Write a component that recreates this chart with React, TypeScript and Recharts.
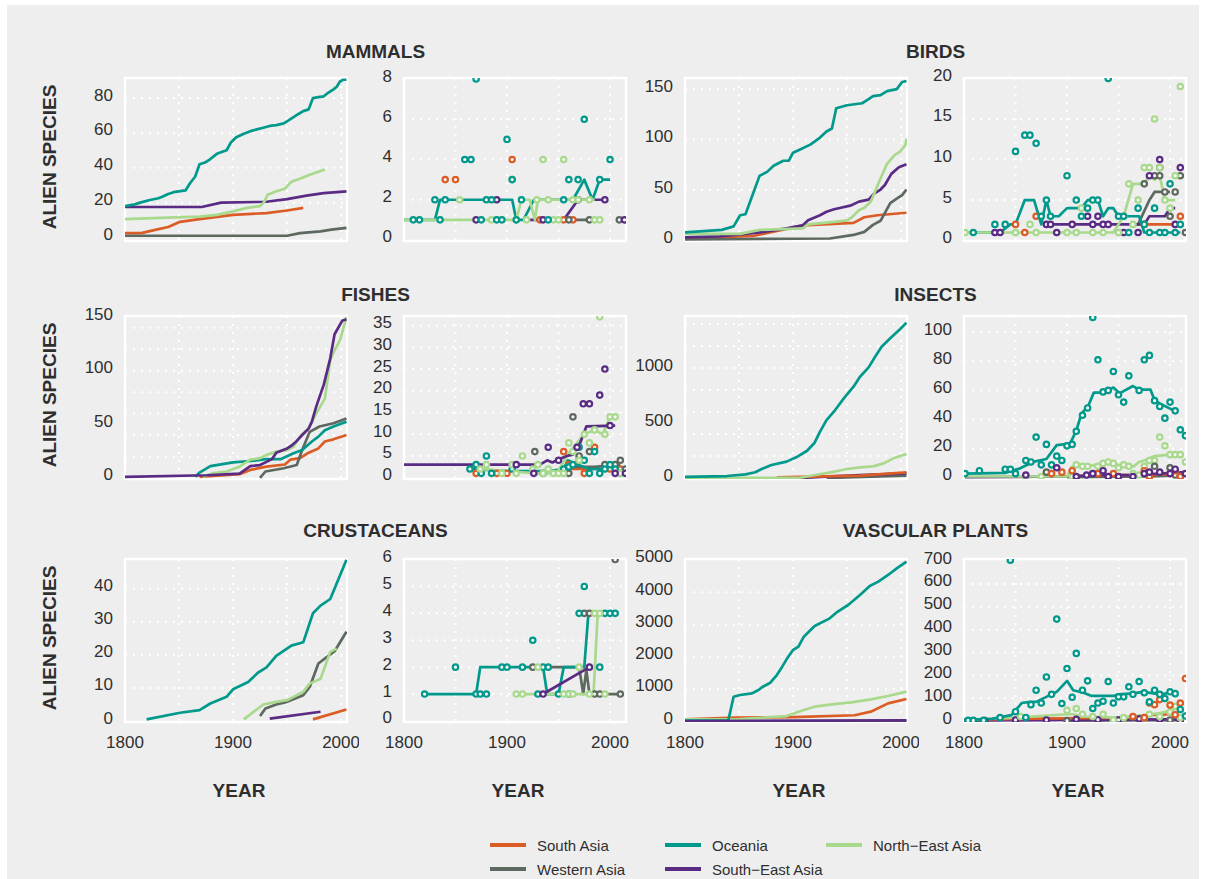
import React from 'react';
import { ComposedChart, Line, Scatter, XAxis, YAxis, CartesianGrid, ReferenceArea } from 'recharts';

type Pt = [number, number];
type RegionKey = 'sa' | 'oc' | 'ne' | 'wa' | 'se';

const REGIONS: { key: RegionKey; name: string; color: string }[] = [
  { key: 'sa', name: 'South Asia', color: '#dc5c26' },
  { key: 'oc', name: 'Oceania', color: '#00998b' },
  { key: 'ne', name: 'North\u2212East Asia', color: '#a9d98c' },
  { key: 'wa', name: 'Western Asia', color: '#5d685e' },
  { key: 'se', name: 'South\u2212East Asia', color: '#5a2b85' },
];

const TITLES = ['MAMMALS', 'BIRDS', 'FISHES', 'INSECTS', 'CRUSTACEANS', 'VASCULAR PLANTS'];
const X_TICKS = [1800, 1900, 2000];
const X_GRID = [1850, 1900, 1950, 2000];

// ---------- MAMMALS (cumulative) ----------
const mamOc: Pt[] = [[1800,18],[1809,19],[1814,20],[1823,21.5],[1831,22.5],[1835,23.5],[1840,25],[1845,26],[1856,27],[1860,31],[1865,35],[1869,42],[1874,43],[1879,45],[1885,48],[1894,50],[1898,54.5],[1903,57.5],[1910,59.5],[1916,61],[1922,62],[1928,63],[1934,64],[1940,64.5],[1947,65.5],[1951,67],[1956,69],[1961,71],[1965,72.5],[1970,73.5],[1974,80],[1979,80.5],[1984,81],[1988,83],[1993,85],[1996,86.5],[1999,89.5],[2002,90.5],[2005,90.5]];
const mamNe: Pt[] = [[1800,10.5],[1846,11.5],[1869,12],[1885,13],[1900,15],[1913,17],[1925,18],[1929,20.5],[1932,24.5],[1940,26.5],[1948,28],[1954,32],[1963,34],[1971,36],[1985,39]];
const mamSe: Pt[] = [[1800,17.5],[1871,17.5],[1889,20],[1931,20.5],[1950,22],[1968,24],[1984,25.5],[2005,26.5]];
const mamSa: Pt[] = [[1800,2.5],[1815,2.5],[1829,4.5],[1840,6],[1851,9],[1869,10.5],[1900,13],[1931,14],[1950,15.5],[1965,17]];
const mamWa: Pt[] = [[1800,1],[1950,1],[1962,2.5],[1981,3.5],[1991,4.5],[2005,5.5]];

// ---------- MAMMALS (new per year) ----------
const mamROc: Pt[] = [[1800,1],[1830,1],[1835,2],[1905,2],[1909,1],[1916,1],[1926,2],[1964,2],[1975,3],[1983,2],[1990,3],[2000,3]];
const mamRNe: Pt[] = [[1800,1],[1909,1],[1914,2],[1922,2],[1927,1],[1930,2],[1985,2]];
const mamRSe: Pt[] = [[1919,1],[1955,1],[1969,2],[1995,2]];
const mamRWa: Pt[] = [[1940,1],[1990,1]];
const mamRSa: Pt[] = [[1935,1],[1965,1]];
const mamROcPts: Pt[] = [[1809,1],[1815,1],[1830,2],[1835,1],[1840,2],[1859,4],[1865,4],[1870,8],[1875,1],[1880,2],[1885,2],[1890,1],[1895,1],[1900,5],[1905,3],[1909,1],[1914,2],[1940,1],[1955,2],[1960,3],[1969,3],[1975,6],[1990,3],[2000,4]];
const mamRNePts: Pt[] = [[1854,2],[1885,1],[1905,3],[1909,1],[1919,1],[1929,2],[1935,4],[1940,2],[1945,1],[1950,1],[1955,4],[1964,2],[1969,2],[1980,2],[1985,1],[1990,1]];
const mamRSePts: Pt[] = [[1870,1],[1890,2],[1935,1],[1969,2],[1995,2],[2014,1]];
const mamRSaPts: Pt[] = [[1840,3],[1850,3],[1905,4],[1932,1],[1955,1],[1964,1]];
const mamRWaPts: Pt[] = [[1960,1],[1980,1],[2009,1]];

// ---------- BIRDS (cumulative) ----------
const birOc: Pt[] = [[1800,8],[1834,10.5],[1842,13],[1845,14],[1851,25],[1856,26],[1869,64],[1876,68],[1882,74],[1891,79],[1896,79],[1900,87],[1906,90],[1916,95],[1925,102],[1931,108],[1936,111],[1940,131],[1950,134],[1964,136],[1970,140],[1974,143],[1981,144],[1987,148],[1996,150],[2001,157],[2005,158]];
const birNe: Pt[] = [[1800,6.5],[1851,6.5],[1869,10.5],[1909,12],[1914,16],[1938,18.5],[1950,20],[1955,23.5],[1961,30],[1966,32.5],[1972,38.5],[1981,61.5],[1987,76],[1994,84.5],[1999,88],[2004,94.5],[2005,101]];
const birSe: Pt[] = [[1800,3],[1832,4],[1869,8],[1894,12],[1909,15],[1914,20],[1925,25],[1931,28.5],[1938,31],[1953,34.5],[1961,38.5],[1970,40.5],[1975,46.5],[1981,50.5],[1985,55],[1991,66],[1998,72.5],[2005,75.5]];
const birSa: Pt[] = [[1800,2],[1863,4.5],[1909,15],[1956,17.5],[1966,23],[1978,25],[2005,27.5]];
const birWa: Pt[] = [[1800,1],[1934,2],[1956,5.5],[1966,8.5],[1974,15.5],[1981,19.5],[1990,37],[1996,41.5],[2001,45],[2005,50.5]];

// ---------- BIRDS (new per year) ----------
const birROc: Pt[] = [[1800,1],[1835,1],[1845,2],[1850,2],[1859,5],[1868,5],[1875,2],[1880,5],[1884,3],[1892,3],[1900,4],[1914,4],[1920,5],[1930,5],[1935,3],[1940,4],[1945,4],[1950,3],[1970,3],[1975,1],[2010,1]];
const birRNe: Pt[] = [[1800,1],[1945,1],[1955,3],[1964,7],[1975,7],[1980,8],[1985,7.5],[1990,8],[1995,5],[2005,5]];
const birRSe: Pt[] = [[1884,2],[1975,2],[1980,3],[1995,3],[2000,4],[2005,4]];
const birRWa: Pt[] = [[1969,2],[1980,5],[1985,6],[2000,6]];
const birRSa: Pt[] = [[1960,2],[2010,2]];
const birROcPts: Pt[] = [[1809,1],[1830,2],[1840,2],[1850,11],[1859,13],[1864,13],[1870,12],[1875,3],[1880,5],[1884,3],[1900,8],[1909,5],[1914,3],[1920,4],[1925,5],[1930,5],[1940,20],[1950,3],[1955,3],[1960,1],[1969,4],[1975,2],[1980,1],[1985,4],[1990,1],[1995,1],[2000,7],[2005,1],[2010,2]];
const birRNePts: Pt[] = [[1801,1],[1850,1],[1864,2],[1870,1],[1900,1],[1909,1],[1914,4],[1925,1],[1935,1],[1950,1],[1955,3],[1960,7],[1964,2],[1969,5],[1975,9],[1980,9],[1985,15],[1990,9],[1995,5],[2000,4],[2005,8],[2010,19]];
const birRSePts: Pt[] = [[1830,1],[1835,1],[1880,2],[1884,2],[1890,1],[1905,2],[1920,3],[1925,2],[1930,3],[1935,2],[1940,2],[1955,1],[1969,1],[1980,8],[1990,10],[1990,9],[2005,2],[2010,9]];
const birRWaPts: Pt[] = [[1975,7],[1985,8],[1990,8],[1995,6],[2000,3],[2005,6],[2010,8],[2015,1]];
const birRSaPts: Pt[] = [[1850,2],[1859,1],[1870,3],[1975,2],[2010,3]];

// ---------- FISHES (cumulative) ----------
const fisSe: Pt[] = [[1800,1],[1876,2.5],[1906,4],[1916,11],[1925,12],[1931,15],[1936,17.5],[1940,23.5],[1950,27.5],[1954,30],[1959,34.5],[1964,40],[1970,46],[1973,52.5],[1977,66.5],[1984,87],[1990,111.5],[1994,134],[2001,146.5],[2005,148]];
const fisNe: Pt[] = [[1872,1],[1882,4.5],[1894,6],[1906,10.5],[1916,17],[1925,18.5],[1931,21.5],[1940,24.5],[1950,26],[1956,29],[1962,38.5],[1970,46.5],[1977,60],[1985,74],[1990,110],[1994,119],[1999,128.5],[2005,150]];
const fisOc: Pt[] = [[1865,1],[1869,5],[1879,11],[1900,14.5],[1919,16],[1931,17.5],[1944,17.5],[1956,23],[1964,26],[1973,34],[1979,38.5],[1985,44.5],[1993,48],[2005,52.5]];
const fisSa: Pt[] = [[1869,1],[1906,3.5],[1916,7.5],[1931,10.5],[1948,12.5],[1953,17],[1962,18.5],[1970,23.5],[1979,27.5],[1985,34],[1993,36],[2005,40]];
const fisWa: Pt[] = [[1925,0],[1930,6],[1947,9],[1959,12],[1964,26],[1971,43],[1980,48],[1993,51],[2005,55.5]];

// ---------- FISHES (new per year) ----------
const fisRSe: Pt[] = [[1800,3],[1932,3],[1939,4],[1944,3.5],[1950,4.2],[1958,5],[1964,5.3],[1971,8],[1977,11.8],[2005,12]];
const fisRNe: Pt[] = [[1874,2],[1900,1.5],[1930,1],[1948,1],[1961,6],[1975,10],[1985,11],[1993,10],[2000,14],[2005,14]];
const fisROc: Pt[] = [[1864,2],[1900,1.5],[1940,1.5],[1955,2],[1959,4],[1969,3],[1980,2],[1995,2],[2010,2]];
const fisRSa: Pt[] = [[1950,2],[1980,2],[2010,2]];
const fisRWa: Pt[] = [[1955,2.5],[1985,2.5],[2010,3]];
const fisRSePts: Pt[] = [[1909,3],[1926,1],[1940,7],[1950,4],[1968,7],[1974,17],[1980,17],[1990,19],[1995,25],[2000,12],[2005,1],[2015,1]];
const fisRNePts: Pt[] = [[1874,2],[1880,3],[1895,1],[1905,3],[1909,1],[1915,5],[1925,2],[1930,3],[1935,1],[1940,2],[1945,1],[1950,1],[1955,1],[1960,8],[1964,6],[1970,4],[1975,10],[1980,8],[1985,11],[1990,37],[1995,10],[2000,14],[2005,14],[2010,1]];
const fisROcPts: Pt[] = [[1864,2],[1870,3],[1875,1],[1880,5],[1885,1],[1905,2],[1935,1],[1955,2],[1960,2.5],[1964,3],[1970,7],[1975,4],[1980,1],[1985,6],[1990,1],[1995,2],[2000,3],[2005,2],[2010,1]];
const fisRSaPts: Pt[] = [[1870,1],[1890,1],[1900,1],[1955,6],[1960,3],[1970,4],[1975,1],[1985,7],[2000,2],[2010,2]];
const fisRWaPts: Pt[] = [[1927,6],[1960,1],[1964,14],[1970,5],[1980,6],[1995,3],[2005,3],[2010,4],[2015,2]];

// ---------- INSECTS (cumulative) ----------
const insOc: Pt[] = [[1800,10],[1839,18],[1856,33],[1865,52],[1871,82],[1880,118],[1894,149],[1903,188],[1913,248],[1920,321],[1925,421],[1931,527],[1939,618],[1947,724],[1956,830],[1962,921],[1970,1006],[1976,1103],[1982,1194],[1990,1270],[1999,1352],[2005,1412]];
const insNe: Pt[] = [[1800,2],[1906,2],[1922,30],[1940,61],[1950,82],[1962,97],[1974,106],[1984,133],[1993,179],[2005,218]];
const insSe: Pt[] = [[1906,0],[1931,12],[1962,27],[2005,42]];
const insSa: Pt[] = [[1885,6],[1962,21],[2005,52]];
const insWa: Pt[] = [[1931,0],[2005,21]];

// ---------- INSECTS (new per year) ----------
const insROc: Pt[] = [[1801,3],[1840,3.5],[1854,6.5],[1867,11],[1880,13],[1890,22.5],[1903,23.5],[1909,32.5],[1914,44],[1921,50],[1926,58.5],[1935,58.5],[1945,62],[1951,58],[1964,63],[1970,60.5],[1981,60.5],[1985,53.5],[1990,51],[2000,47.5],[2006,45.5]];
const insRNe: Pt[] = [[1801,1],[1900,1],[1905,8],[1920,8],[1935,10],[1950,9],[1965,8],[1970,11],[1975,12],[1985,15],[2000,16],[2010,16]];
const insRSe: Pt[] = [[1801,0.5],[1900,1],[1930,2],[1960,2],[1990,3],[2015,4]];
const insRSa: Pt[] = [[1880,1],[1950,2],[1990,2.5],[2015,3]];
const insRWa: Pt[] = [[1900,0.5],[1980,1],[2015,2]];
const insROcPts: Pt[] = [[1801,3],[1815,5],[1840,6],[1845,6],[1850,3],[1860,12],[1865,11],[1870,28],[1875,9],[1880,23],[1885,9],[1890,15],[1895,12],[1900,22],[1905,23],[1909,32],[1915,43],[1920,48],[1925,110],[1930,81],[1935,59],[1940,60],[1945,73],[1950,57],[1955,52],[1960,70],[1970,60],[1975,81],[1980,84],[1985,53],[1990,49],[1995,41],[2000,52],[2005,46],[2010,33],[2015,29]];
const insRNePts: Pt[] = [[1860,0.5],[1875,1],[1905,1],[1909,9],[1915,8],[1920,8],[1930,8],[1935,10],[1940,11],[1945,10],[1950,7],[1955,9],[1960,8],[1964,3],[1970,2],[1975,8],[1980,12],[1985,12],[1990,28],[1995,22],[2000,16],[2005,16],[2010,16],[2015,11]];
const insRSePts: Pt[] = [[1860,2],[1890,7],[1909,1],[1919,2],[1925,3],[1935,5],[1940,1],[1950,1],[1964,1],[1975,3],[1980,4],[1990,4],[2000,3],[2005,6],[2015,3]];
const insRSaPts: Pt[] = [[1885,3],[1895,4],[1905,5],[1930,3],[1945,3],[1975,5],[1980,1],[2000,3],[2005,5],[2010,1]];
const insRWaPts: Pt[] = [[1880,4],[1925,3],[1980,1],[1985,8],[2000,7],[2005,2],[2010,1]];

// ---------- CRUSTACEANS (cumulative) ----------
const cruOc: Pt[] = [[1820,0.5],[1851,2.5],[1869,3.3],[1879,5.3],[1894,7.3],[1900,9.6],[1914,11.8],[1923,14.6],[1931,16.2],[1940,19.7],[1954,22.8],[1965,23.8],[1974,32.6],[1981,34.9],[1990,36.9],[2005,48.8]];
const cruNe: Pt[] = [[1910,0.5],[1928,5],[1940,5.8],[1950,6.3],[1965,8.8],[1971,11.3],[1981,12.8],[1990,20.9],[1996,21.9]];
const cruWa: Pt[] = [[1925,1.5],[1930,3.8],[1940,5],[1950,5.8],[1965,7.8],[1971,10.3],[1979,17.4],[1987,19.4],[1994,21.1],[2005,27]];
const cruSe: Pt[] = [[1934,0.7],[1981,2.8]];
const cruSa: Pt[] = [[1974,0.5],[2005,3.5]];

// ---------- CRUSTACEANS (new per year) ----------
const cruROc: Pt[] = [[1820,1],[1870,1],[1874,2],[1935,2],[1939,1],[1950,1],[1955,2],[1975,2],[1979,4],[2005,4]];
const cruRWa: Pt[] = [[1925,2],[1964,2],[1970,2],[1974,1],[1977,1.9],[1980,1],[1985,1],[2010,1]];
const cruRNe: Pt[] = [[1909,1],[1984,1],[1988,4],[1990,4]];
const cruRSe: Pt[] = [[1935,1],[1980,2]];
const cruROcPts: Pt[] = [[1820,1],[1850,2],[1870,1],[1874,1],[1880,1],[1895,2],[1900,2],[1915,2],[1925,3],[1930,1],[1935,2],[1940,2],[1950,1],[1960,1],[1970,4],[1975,5],[1990,2],[1995,4],[2000,4],[2005,4]];
const cruRWaPts: Pt[] = [[1925,2],[1975,4],[1980,4],[1985,1],[1990,1],[2005,6],[2010,1]];
const cruRNePts: Pt[] = [[1909,1],[1915,1],[1930,2],[1955,1],[1960,1],[1964,1],[1970,2],[1980,1],[1985,4],[1990,4],[1995,1]];
const cruRSePts: Pt[] = [[1935,1],[1980,2]];

// ---------- VASCULAR PLANTS (cumulative) ----------
const vasOc: Pt[] = [[1800,10],[1840,10],[1845,755],[1851,807],[1862,859],[1868,963],[1872,1066],[1879,1190],[1885,1428],[1890,1687],[1894,1915],[1900,2205],[1905,2308],[1910,2619],[1920,2950],[1934,3188],[1940,3364],[1951,3602],[1962,3913],[1971,4193],[1979,4327],[1988,4534],[1996,4741],[2005,4948]];
const vasNe: Pt[] = [[1800,50],[1850,60],[1894,155],[1910,342],[1920,445],[1936,518],[1954,580],[1972,673],[1988,776],[2005,911]];
const vasSa: Pt[] = [[1800,50],[1847,110],[1900,120],[1957,180],[1972,290],[1988,549],[2005,684]];
const vasSe: Pt[] = [[1800,0],[2005,20]];
const vasWa: Pt[] = [[1800,0],[2005,5]];

// ---------- VASCULAR PLANTS (new per year) ----------
const vasROc: Pt[] = [[1800,5],[1827,10],[1846,26],[1856,79],[1864,84],[1870,84],[1880,106],[1890,128],[1900,176],[1906,135],[1916,124],[1924,110],[1945,110],[1950,117],[1964,121],[1974,128],[1984,121],[1990,117],[2000,124],[2005,117]];
const vasRNe: Pt[] = [[1800,5],[1850,15],[1900,30],[1906,30],[1915,20],[1950,15],[1975,25],[1990,35],[2000,45],[2010,60]];
const vasRSa: Pt[] = [[1800,5],[1850,10],[1960,15],[1975,25],[2000,30],[2005,35]];
const vasRSe: Pt[] = [[1800,2],[2000,8],[2010,5]];
const vasRWa: Pt[] = [[1900,2],[2010,4]];
const vasROcPts: Pt[] = [[1804,3],[1809,3],[1819,3],[1835,15],[1845,704],[1850,41],[1860,16],[1865,72],[1870,135],[1875,79],[1880,193],[1885,117],[1890,446],[1895,77],[1900,230],[1905,104],[1909,296],[1915,135],[1920,176],[1925,55],[1930,79],[1935,87],[1940,173],[1945,79],[1950,106],[1955,106],[1960,150],[1964,117],[1970,173],[1975,124],[1980,84],[1985,135],[1990,117],[1995,99],[2000,128],[2005,120],[2010,51],[2015,22]];
const vasRNePts: Pt[] = [[1855,20],[1900,47],[1909,55],[1915,30],[1925,20],[1935,30],[1945,5],[1955,15],[1964,20],[1975,15],[1980,30],[1990,20],[2000,40],[2005,65],[2010,15]];
const vasRSaPts: Pt[] = [[1964,20],[1975,15],[1980,79],[1985,72],[1990,94],[2000,70],[2005,28],[2010,79],[2015,186]];
const vasRSePts: Pt[] = [[1820,2],[1850,5],[1880,5],[1909,8],[1930,6],[1950,5],[1970,10],[1990,8],[2010,3]];
const vasRWaPts: Pt[] = [[1900,2],[1950,3],[2000,5]];

// ---------- panel definitions ----------
type Series = Partial<Record<RegionKey, Pt[]>>;
interface PanelDef {
  row: number; col: number; xMax: number;
  yDomain: [number, number]; yTicks: number[]; gridY: number[];
  lines: Series; pts?: Series;
}

const PANELS: PanelDef[] = [
  { row: 0, col: 0, xMax: 2005.5, yDomain: [-2, 91.5], yTicks: [0, 20, 40, 60, 80], gridY: [20, 40, 60, 80],
    lines: { sa: mamSa, wa: mamWa, se: mamSe, ne: mamNe, oc: mamOc } },
  { row: 0, col: 1, xMax: 2015.5, yDomain: [-0.05, 8.05], yTicks: [0, 2, 4, 6, 8], gridY: [2, 4, 6],
    lines: { sa: mamRSa, wa: mamRWa, se: mamRSe, oc: mamROc, ne: mamRNe },
    pts: { sa: mamRSaPts, wa: mamRWaPts, se: mamRSePts, ne: mamRNePts, oc: mamROcPts } },
  { row: 0, col: 2, xMax: 2005.5, yDomain: [-0.5, 161], yTicks: [0, 50, 100, 150], gridY: [50, 100, 150],
    lines: { sa: birSa, wa: birWa, se: birSe, ne: birNe, oc: birOc } },
  { row: 0, col: 3, xMax: 2015.5, yDomain: [-0.05, 20.05], yTicks: [0, 5, 10, 15, 20], gridY: [5, 10, 15],
    lines: { sa: birRSa, wa: birRWa, se: birRSe, oc: birROc, ne: birRNe },
    pts: { sa: birRSaPts, wa: birRWaPts, se: birRSePts, ne: birRNePts, oc: birROcPts } },
  { row: 1, col: 0, xMax: 2005.5, yDomain: [-1, 151], yTicks: [0, 50, 100, 150], gridY: [20, 40, 60, 80, 100, 120, 140],
    lines: { sa: fisSa, wa: fisWa, oc: fisOc, ne: fisNe, se: fisSe } },
  { row: 1, col: 1, xMax: 2015.5, yDomain: [-0.3, 37.2], yTicks: [0, 5, 10, 15, 20, 25, 30, 35], gridY: [5, 10, 15, 20, 25, 30, 35],
    lines: { sa: fisRSa, wa: fisRWa, oc: fisROc, ne: fisRNe, se: fisRSe },
    pts: { sa: fisRSaPts, wa: fisRWaPts, oc: fisROcPts, ne: fisRNePts, se: fisRSePts } },
  { row: 1, col: 2, xMax: 2005.5, yDomain: [-9, 1473], yTicks: [0, 500, 1000], gridY: [200, 400, 600, 800, 1000, 1200, 1400],
    lines: { wa: insWa, se: insSe, sa: insSa, ne: insNe, oc: insOc } },
  { row: 1, col: 3, xMax: 2015.5, yDomain: [-0.7, 111], yTicks: [0, 20, 40, 60, 80, 100], gridY: [20, 40, 60, 80, 100],
    lines: { wa: insRWa, sa: insRSa, se: insRSe, ne: insRNe, oc: insROc },
    pts: { oc: insROcPts, ne: insRNePts, wa: insRWaPts, sa: insRSaPts, se: insRSePts } },
  { row: 2, col: 0, xMax: 2005.5, yDomain: [-0.3, 49], yTicks: [0, 10, 20, 30, 40], gridY: [10, 20, 30, 40],
    lines: { sa: cruSa, se: cruSe, wa: cruWa, ne: cruNe, oc: cruOc } },
  { row: 2, col: 1, xMax: 2015.5, yDomain: [-0.04, 6.02], yTicks: [0, 1, 2, 3, 4, 5, 6], gridY: [1, 2, 3, 4, 5],
    lines: { wa: cruRWa, oc: cruROc, ne: cruRNe, se: cruRSe },
    pts: { wa: cruRWaPts, oc: cruROcPts, ne: cruRNePts, se: cruRSePts } },
  { row: 2, col: 2, xMax: 2005.5, yDomain: [-30, 5030], yTicks: [0, 1000, 2000, 3000, 4000, 5000], gridY: [1000, 2000, 3000, 4000],
    lines: { wa: vasWa, sa: vasSa, ne: vasNe, oc: vasOc, se: vasSe } },
  { row: 2, col: 3, xMax: 2015.5, yDomain: [-4, 709], yTicks: [0, 100, 200, 300, 400, 500, 600, 700], gridY: [100, 200, 300, 400, 500, 600],
    lines: { wa: vasRWa, se: vasRSe, sa: vasRSa, ne: vasRNe, oc: vasROc },
    pts: { wa: vasRWaPts, se: vasRSePts, ne: vasRNePts, sa: vasRSaPts, oc: vasROcPts } },
];

// ---------- layout ----------
const ROW_TOP = [78, 316, 559];
const COL_LEFT = [125, 404, 685, 964];
const PW = 222;
const PH = 163;
const YW = 70;
const MT = 12;
const MR = 12;
const FONT = '"Liberation Sans", Arial, Helvetica, sans-serif';
const TEXT = '#2e2e2e';
const BG = '#eeeeee';

const colorOf = (k: RegionKey) => REGIONS.find((r) => r.key === k)!.color;
const toXY = (a: Pt[]) => a.map(([x, y]) => ({ x, y }));

const YTick = (props: any) => (
  <text x={props.x - 12} y={props.y - 3} textAnchor="end" dominantBaseline="central" fontSize={17} fill={TEXT} fontFamily={FONT}>
    {props.payload.value}
  </text>
);
const XTick = (props: any) => (
  <text x={props.x} y={props.y + 20} textAnchor="middle" dominantBaseline="central" fontSize={17} fill={TEXT} fontFamily={FONT}>
    {props.payload.value}
  </text>
);

const ring = (color: string) => (props: any) => (
  <circle cx={props.cx} cy={props.cy} r={2.7} fill="#f6f6f6" stroke={color} strokeWidth={2.2} />
);

function Panel({ p }: { p: PanelDef }) {
  const showX = p.row === 2;
  const XH = showX ? 40 : 0;
  const MB = showX ? 0 : 12;
  const width = YW + PW + MR;
  const height = MT + PH + XH + MB;
  const left = COL_LEFT[p.col] - YW;
  const top = ROW_TOP[p.row] - MT;
  return (
    <div style={{ position: 'absolute', left, top }}>
      <ComposedChart width={width} height={height} margin={{ top: MT, right: MR, bottom: MB, left: 0 }}>
        <XAxis type="number" dataKey="x" domain={[1800, p.xMax]} allowDataOverflow ticks={X_TICKS} interval={0}
          hide={!showX} height={XH} axisLine={false} tickLine={false} tickSize={0} tickMargin={0} tick={XTick} />
        <YAxis type="number" dataKey="y" domain={p.yDomain} allowDataOverflow ticks={p.yTicks} interval={0}
          width={YW} axisLine={false} tickLine={false} tickSize={0} tickMargin={0} tick={YTick} />
        <CartesianGrid stroke="#ffffff" strokeWidth={2} strokeDasharray="2 6"
          horizontalValues={p.gridY} verticalValues={X_GRID} />
        <ReferenceArea x1={1800} x2={p.xMax} y1={p.yDomain[0]} y2={p.yDomain[1]} fill="none" fillOpacity={0}
          stroke="#ffffff" strokeWidth={2.5} ifOverflow="visible" />
        {(Object.keys(p.lines) as RegionKey[]).map((k) => (
          <Line key={'l' + k} data={toXY(p.lines[k]!)} dataKey="y" type="linear" stroke={colorOf(k)} strokeWidth={2.7}
            dot={false} activeDot={false} isAnimationActive={false} strokeLinejoin="round" />
        ))}
        {p.pts && (Object.keys(p.pts) as RegionKey[]).map((k) => (
          <Scatter key={'s' + k} data={toXY(p.pts![k]!)} dataKey="y" fill={colorOf(k)} shape={ring(colorOf(k))}
            isAnimationActive={false} />
        ))}
      </ComposedChart>
    </div>
  );
}

const label = (text: string, cx: number, cy: number, size: number, rotate = false): React.ReactNode => (
  <div key={text + cx + cy} style={{
    position: 'absolute', left: cx - 200, top: cy - 12, width: 400, height: 24, lineHeight: '24px',
    textAlign: 'center', fontSize: size, fontWeight: 700, color: TEXT, fontFamily: FONT,
    transform: rotate ? 'rotate(-90deg)' : undefined, whiteSpace: 'nowrap',
  }}>{text}</div>
);

const TITLE_Y = [52, 295, 531];
const LEGEND_ROWS: RegionKey[][] = [['sa', 'oc', 'ne'], ['wa', 'se']];
const LEGEND_X = [490, 665, 826];
const LEGEND_Y = [845, 869];

export default function App() {
  return (
    <div style={{ position: 'absolute', left: 0, top: 0, width: 1206, height: 879, background: '#ffffff', overflow: 'hidden' }}>
      <div style={{ position: 'absolute', left: 7, top: 5, width: 1192, height: 874, background: BG }} />
      {TITLES.map((t, i) => label(t, (COL_LEFT[(i % 2) * 2] + COL_LEFT[(i % 2) * 2 + 1] + PW) / 2, TITLE_Y[Math.floor(i / 2)], 19))}
      {ROW_TOP.map((t) => label('ALIEN SPECIES', 50, t + 79, 19, true))}
      {COL_LEFT.map((l) => label('YEAR', l + PW / 2 + 3, 791, 19))}
      {PANELS.map((p, i) => <Panel key={i} p={p} />)}
      {LEGEND_ROWS.map((row, ri) => row.map((k, ci) => {
        const r = REGIONS.find((x) => x.key === k)!;
        return (
          <div key={k} style={{ position: 'absolute', left: LEGEND_X[ci], top: LEGEND_Y[ri] - 10, height: 20, display: 'flex', alignItems: 'center', fontFamily: FONT, fontSize: 15, color: TEXT, whiteSpace: 'nowrap' }}>
            <span style={{ display: 'inline-block', width: 36, height: 4, background: r.color, marginRight: 11 }} />
            <span>{r.name}</span>
          </div>
        );
      }))}
    </div>
  );
}
